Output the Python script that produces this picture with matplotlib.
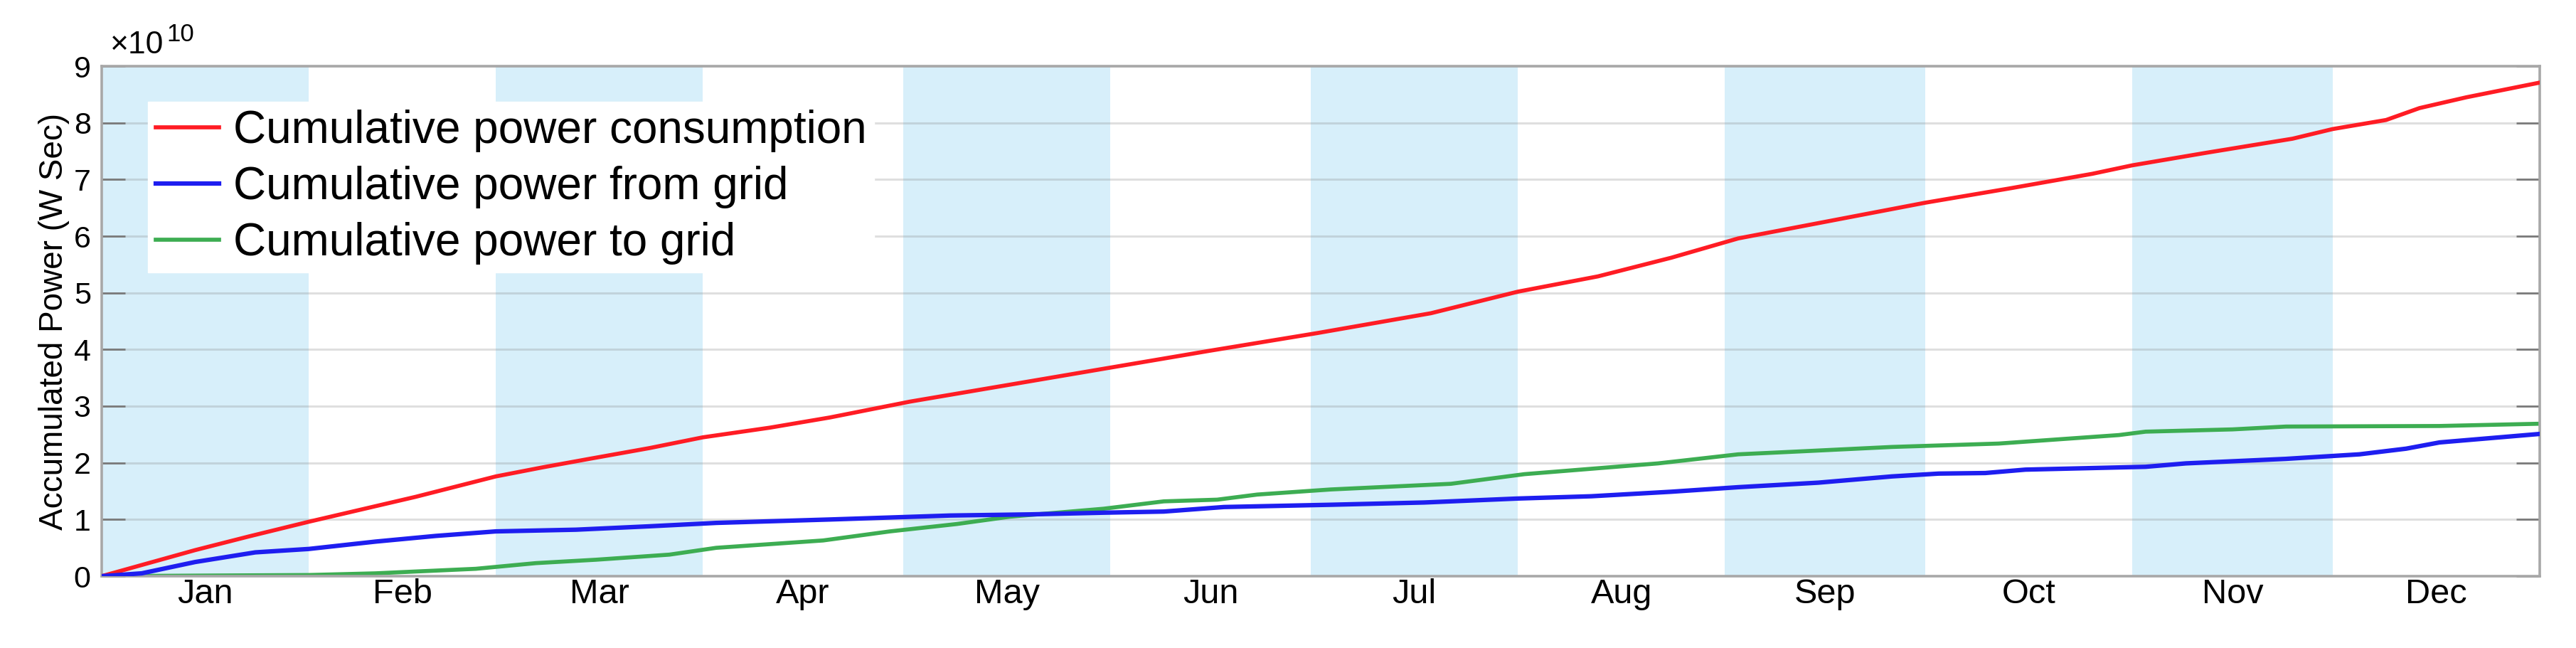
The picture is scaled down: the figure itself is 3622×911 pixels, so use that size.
import matplotlib
matplotlib.use("Agg")
import matplotlib.pyplot as plt
import numpy as np

plt.rcParams['font.family'] = ['Liberation Sans', 'DejaVu Sans']

# ---------------- data ----------------
months = ["Jan", "Feb", "Mar", "Apr", "May", "Jun",
          "Jul", "Aug", "Sep", "Oct", "Nov", "Dec"]
month_lengths = [31, 28, 31, 30, 31, 30, 31, 31, 30, 31, 30, 31]

# cumulative power consumption (W Sec, x1e10) vs day of year
cons_day = [0, 7, 14, 22, 31, 39, 47, 53, 59, 66, 73, 82, 90, 100, 109, 121,
            136, 151, 166, 182, 199, 212, 224, 235, 245, 257, 273, 286, 298,
            304, 315, 328, 334, 342, 347, 354, 365]
cons_val = [0, 0.23, 0.46, 0.70, 0.96, 1.18, 1.40, 1.58, 1.76, 1.92, 2.07,
            2.26, 2.45, 2.62, 2.80, 3.08, 3.38, 3.68, 3.98, 4.29, 4.64, 5.02,
            5.29, 5.62, 5.96, 6.23, 6.59, 6.85, 7.10, 7.25, 7.47, 7.72, 7.89,
            8.05, 8.26, 8.45, 8.71]

# cumulative power from grid
grid_from_day = [0, 6, 14, 23, 31, 41, 50, 59, 71, 82, 92, 109, 127, 139,
                 150, 159, 168, 184, 198, 212, 223, 235, 245, 257, 268, 275,
                 282, 288, 306, 312, 327, 338, 345, 350, 358, 365]
grid_from_val = [0, 0.05, 0.25, 0.42, 0.48, 0.61, 0.71, 0.79, 0.82, 0.88,
                 0.94, 1.00, 1.07, 1.09, 1.12, 1.14, 1.22, 1.26, 1.30, 1.37,
                 1.41, 1.49, 1.57, 1.65, 1.76, 1.81, 1.82, 1.88, 1.93, 1.99,
                 2.07, 2.15, 2.25, 2.36, 2.44, 2.51]

# cumulative power to grid
grid_to_day = [0, 15, 31, 41, 56, 65, 74, 85, 92, 108, 118, 128, 136, 150,
               159, 167, 173, 184, 202, 213, 233, 245, 254, 268, 284, 302,
               306, 319, 327, 350, 365]
grid_to_val = [0, 0.01, 0.02, 0.05, 0.13, 0.23, 0.29, 0.38, 0.50, 0.63, 0.79,
               0.92, 1.05, 1.19, 1.32, 1.35, 1.44, 1.53, 1.63, 1.80, 1.99,
               2.15, 2.20, 2.28, 2.34, 2.49, 2.55, 2.59, 2.64, 2.65, 2.69]

series_labels = ["Cumulative power consumption",
                 "Cumulative power from grid",
                 "Cumulative power to grid"]
y_ticks = [0, 1, 2, 3, 4, 5, 6, 7, 8, 9]
exponent = 10

# ---------------- figure ----------------
W, H, DPI = 3622, 911, 100
fig = plt.figure(figsize=(W / DPI, H / DPI), dpi=DPI)
ax = fig.add_axes([143 / W, (H - 810) / H, 3428 / W, 717 / H])

# month bands
starts = np.concatenate([[0], np.cumsum(month_lengths)[:-1]])
ends = np.cumsum(month_lengths)
for i, (s, e) in enumerate(zip(starts, ends)):
    if i % 2 == 0:
        ax.axvspan(s, e, color='#D7EFFA', lw=0, zorder=0.2)

lw = 4.1
ax.plot(cons_day, cons_val, color='#FF1C24', lw=lw,
        label=series_labels[0], zorder=3)
ax.plot(grid_from_day, grid_from_val, color='#1E1EF0', lw=lw + 0.4,
        label=series_labels[1], zorder=3)
ax.plot(grid_to_day, grid_to_val, color='#3DAD52', lw=lw,
        label=series_labels[2], zorder=2.5)

ax.set_xlim(0, 365)
ax.set_ylim(0, 9)

# y axis
ax.set_yticks(y_ticks)
ax.set_yticklabels([str(v) for v in y_ticks])
ax.tick_params(axis='y', which='major', direction='in', length=24, width=2,
               color='#7A7A7A', labelsize=31, pad=11, left=True, right=True)
ax.grid(axis='y', color='#808080', alpha=0.25, lw=2.2)
ax.set_axisbelow(True)

# scale factor text (x10^10)
ax.text(0.0035, 1.0251, "\u00d710", transform=ax.transAxes, fontsize=32,
        ha='left', va='baseline')
ax.text(0.0268, 1.0488, str(exponent), transform=ax.transAxes, fontsize=25,
        ha='left', va='baseline')

# x axis: month labels at mid-month
mids = (starts + ends) / 2.0
ax.set_xticks(mids)
ax.set_xticklabels(months)
ax.tick_params(axis='x', length=0, labelsize=35, pad=2)

for sp in ax.spines.values():
    sp.set_color('#A8A8A8')
    sp.set_linewidth(2.6)

ax.set_ylabel("Accumulated Power (W Sec)", fontsize=33)
ax.yaxis.set_label_coords(-0.0131, 0.5)

leg = ax.legend(loc='upper left', bbox_to_anchor=(0.019, 0.930),
                borderaxespad=0, fontsize=46, handlelength=1.40,
                handletextpad=0.3, borderpad=0.17, labelspacing=0.30,
                frameon=True, fancybox=False, framealpha=1,
                facecolor='white', edgecolor='white')
leg.set_zorder(5)

fig.savefig("out.png", dpi=DPI)
